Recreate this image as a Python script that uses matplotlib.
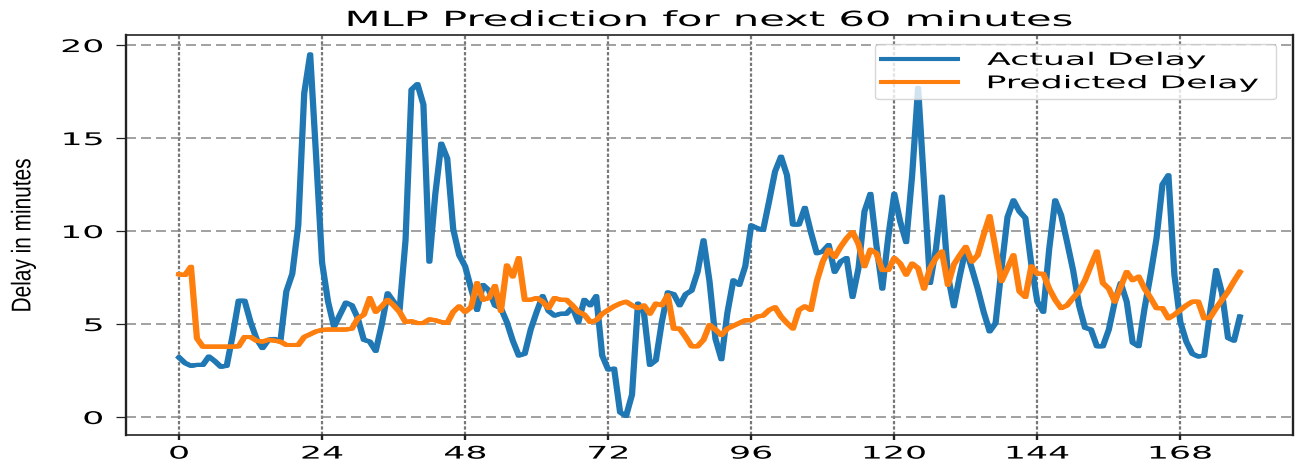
import matplotlib
matplotlib.use("Agg")
import matplotlib.pyplot as plt
from matplotlib.patheffects import AbstractPathEffect, Stroke, Normal
from matplotlib.transforms import Affine2D

plt.rcParams["lines.scale_dashes"] = False
plt.rcParams["font.family"] = ["DejaVu Sans"]

# ---- data -------------------------------------------------------------
actual_delay = [
    3.2, 2.9, 2.75, 2.8, 2.8, 3.25, 3.0, 2.7, 2.75, 4.4,
    6.25, 6.25, 5.1, 4.2, 3.7, 4.15, 4.2, 4.05, 6.75, 7.7,
    10.3, 17.4, 19.5, 14.0, 8.3, 6.2, 4.85, 5.5, 6.15, 6.0,
    5.3, 4.15, 4.05, 3.55, 4.95, 6.65, 6.2, 5.75, 9.5, 17.6,
    17.9, 16.8, 8.35, 12.0, 14.7, 13.9, 10.1, 8.7, 8.1, 6.9,
    5.75, 7.1, 6.8, 6.0, 5.85, 5.1, 4.1, 3.3, 3.4, 4.7,
    5.65, 6.5, 5.7, 5.45, 5.55, 5.55, 5.9, 5.1, 6.3, 6.0,
    6.5, 3.3, 2.55, 2.6, 0.25, 0.05, 1.2, 6.1, 5.6, 2.8,
    3.05, 5.1, 6.7, 6.6, 6.0, 6.6, 6.8, 7.8, 9.5, 7.3,
    4.2, 3.1, 5.6, 7.35, 7.1, 8.1, 10.3, 10.15, 10.05, 11.6,
    13.2, 14.0, 13.0, 10.35, 10.35, 11.25, 9.95, 8.8, 8.9, 9.25,
    7.8, 8.35, 8.55, 6.45, 8.0, 11.05, 12.0, 9.25, 6.9, 9.7,
    12.0, 10.5, 9.4, 13.0, 17.7, 12.5, 7.2, 9.05, 11.85, 7.6,
    5.95, 7.6, 9.05, 8.0, 6.9, 5.65, 4.6, 5.05, 8.0, 10.75,
    11.65, 11.05, 10.7, 8.2, 6.2, 5.65, 9.05, 11.65, 10.85, 9.4,
    7.9, 6.0, 4.8, 4.7, 3.8, 3.8, 4.7, 6.2, 7.2, 6.2,
    4.0, 3.8, 5.85, 7.65, 9.6, 12.5, 13.0, 7.65, 5.1, 4.05,
    3.4, 3.25, 3.3, 5.65, 7.9, 6.65, 4.25, 4.1, 5.4,
]

predicted_delay = [
    7.67, 7.63, 8.08, 4.23, 3.78, 3.78, 3.78, 3.78, 3.78, 3.78,
    3.8, 4.3, 4.3, 4.1, 4.05, 4.15, 4.1, 4.05, 3.87, 3.87,
    3.87, 4.3, 4.45, 4.6, 4.68, 4.7, 4.7, 4.7, 4.7, 4.75,
    5.3, 5.5, 6.4, 5.65, 5.95, 6.3, 6.0, 5.65, 5.1, 5.15,
    5.05, 5.05, 5.25, 5.2, 5.1, 5.05, 5.65, 5.95, 5.65, 5.9,
    7.2, 6.3, 6.4, 7.05, 5.7, 8.15, 7.55, 8.55, 6.3, 6.3,
    6.4, 6.2, 5.85, 6.4, 6.3, 6.3, 6.0, 5.65, 5.5, 5.1,
    5.2, 5.55, 5.75, 5.95, 6.1, 6.2, 6.0, 5.85, 6.0, 5.55,
    6.1, 6.0, 6.55, 4.75, 4.75, 4.3, 3.8, 3.8, 4.15, 4.95,
    4.7, 4.4, 4.75, 4.9, 5.05, 5.2, 5.2, 5.4, 5.45, 5.75,
    5.9, 5.4, 5.05, 4.75, 5.75, 5.95, 5.75, 7.3, 8.35, 9.0,
    8.6, 9.15, 9.6, 9.95, 9.3, 8.1, 9.0, 8.8, 7.9, 7.9,
    8.55, 8.25, 7.65, 8.25, 8.0, 6.9, 8.0, 8.55, 8.9, 7.1,
    8.2, 8.7, 9.15, 8.35, 8.7, 9.8, 10.8, 9.05, 7.3, 8.0,
    8.7, 6.75, 6.45, 8.1, 7.7, 7.7, 6.9, 6.3, 5.85, 6.0,
    6.4, 6.75, 7.35, 8.15, 8.9, 7.2, 6.9, 6.2, 7.0, 7.8,
    7.35, 7.55, 6.9, 6.4, 5.85, 5.85, 5.3, 5.5, 5.75, 6.0,
    6.2, 6.2, 5.3, 5.35, 5.85, 6.3, 6.75, 7.3, 7.8,
]

x_ticks = [0, 24, 48, 72, 96, 120, 144, 168]
y_ticks = [0, 5, 10, 15, 20]
series_labels = ["Actual Delay", "Predicted Delay"]
title_text = "MLP Prediction for next 60 minutes"
y_label_text = "Delay in minutes"

BLUE = "#1f77b4"
ORANGE = "#ff7f0e"
WIDE = 2.0  # horizontal widening of the glyphs


class Stretch(AbstractPathEffect):
    """Scale glyph outlines in their own frame about an anchor point."""

    def __init__(self, sx=1.0, sy=1.0, fx=0.0, fy=0.0):
        super().__init__()
        self.sx, self.sy, self.fx, self.fy = sx, sy, fx, fy

    def draw_path(self, renderer, gc, tpath, affine, rgbFace=None):
        ext = tpath.get_extents()
        px = ext.x0 + self.fx * ext.width
        py = ext.y0 + self.fy * ext.height
        t = (Affine2D().translate(-px, -py)
             .scale(self.sx, self.sy).translate(px, py))
        renderer.draw_path(gc, tpath, t + affine, rgbFace)


# ---- figure -----------------------------------------------------------
fig = plt.figure(figsize=(13.03, 4.69), dpi=100)
ax = fig.add_axes([126 / 1303, 34 / 469, 1167 / 1303, 400 / 469])

steps = list(range(len(actual_delay)))
pen = [Stroke(offset=(-0.8, 0)), Stroke(offset=(0.8, 0)), Normal()]
ax.plot(steps, actual_delay, color=BLUE, lw=2.9, label=series_labels[0],
        path_effects=pen, zorder=3)
ax.plot(steps, predicted_delay, color=ORANGE, lw=2.9, label=series_labels[1],
        path_effects=pen, zorder=3)

ax.set_xlim(-8.9, 186.9)
ax.set_ylim(-0.97, 20.54)
ax.set_xticks(x_ticks)
ax.set_yticks(y_ticks)

ax.yaxis.grid(True, color="#888888", lw=1.1, linestyle=(0, (7.2, 3.6)))
ax.xaxis.grid(True, color="#777777", lw=1.6, linestyle=(0, (2.4, 1.45)))
ax.set_axisbelow(True)

for side in ("left", "right"):
    ax.spines[side].set_linewidth(1.7)
for side in ("top", "bottom"):
    ax.spines[side].set_linewidth(1.2)
for sp in ax.spines.values():
    sp.set_color("#222222")

ax.tick_params(axis="y", length=7.5, width=0.9, pad=9, labelsize=12.5,
               colors="#222222", labelcolor="black")
ax.tick_params(axis="x", length=3.4, width=1.7, pad=3.5, labelsize=12.5,
               colors="#222222", labelcolor="black")

ax.set_title(title_text, fontsize=15, pad=6.5)
ax.set_ylabel(y_label_text, fontsize=15, family=["Liberation Sans"])
ax.yaxis.set_label_coords(-0.0774, 0.5)

leg = ax.legend(loc="upper right", bbox_to_anchor=(0.642, 0.83, 0.3434, 0.1475),
                mode="expand", borderaxespad=0, fontsize=12.5,
                handlelength=4.3, handletextpad=1.75, labelspacing=0.3,
                borderpad=0.4)

fig.canvas.draw()
ax.title.set_path_effects([Stretch(sx=WIDE, fx=0.5)])
for lab in ax.get_xticklabels():
    lab.set_path_effects([Stretch(sx=WIDE, fx=0.5)])
for lab in ax.get_yticklabels():
    lab.set_path_effects([Stretch(sx=WIDE, fx=1.0)])
for txt in leg.get_texts():
    txt.set_path_effects([Stretch(sx=WIDE, fx=0.0)])
ax.yaxis.label.set_path_effects([Stretch(sy=1.3, fy=0.0)])

fig.savefig("out.png", dpi=100)
